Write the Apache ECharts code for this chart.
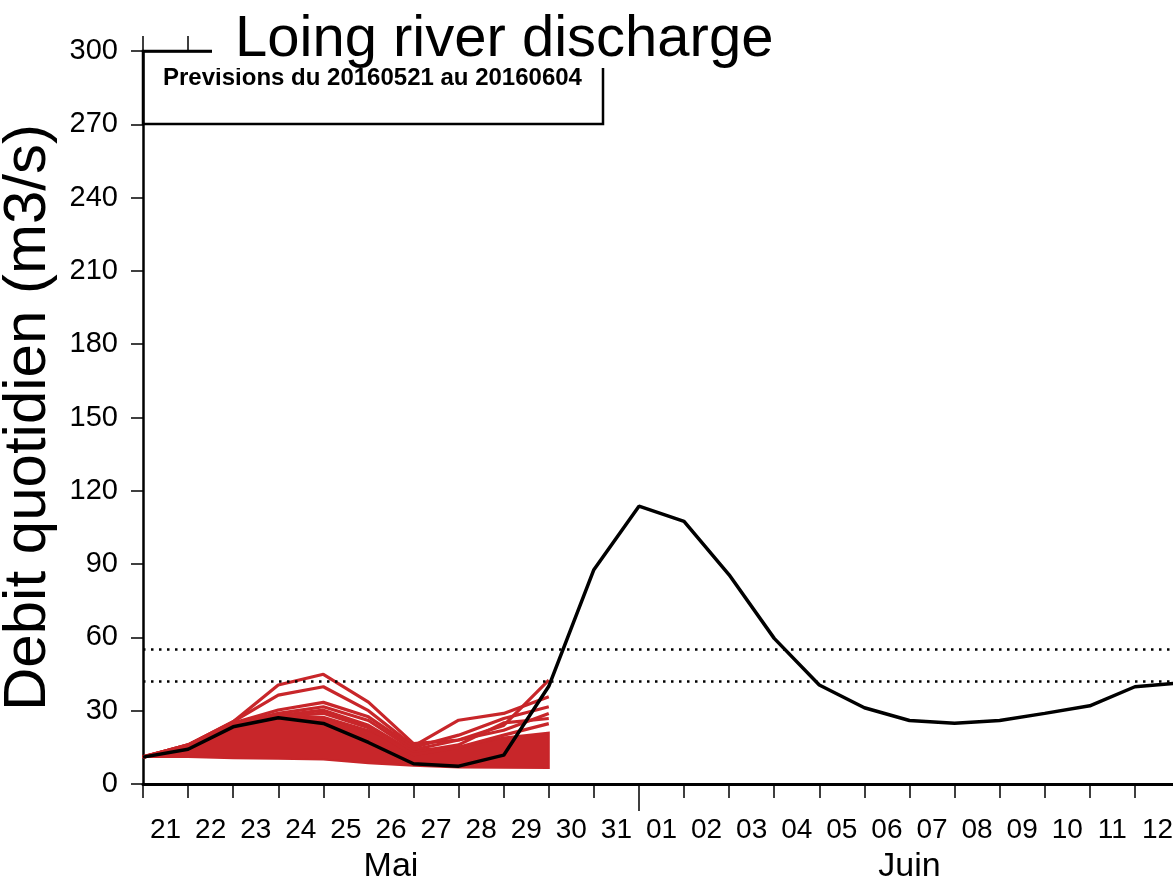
<!DOCTYPE html>
<html><head><meta charset="utf-8">
<script src="https://cdn.jsdelivr.net/npm/echarts@6/dist/echarts.min.js"></script>
<style>html,body{margin:0;padding:0;background:#fff;overflow:hidden}#c{width:1173px;height:885px}</style>
</head><body><div id="c"></div>
<script>
// ---- data ----
const days = ['21','22','23','24','25','26','27','28','29','30','31','01','02','03','04','05','06','07','08','09','10','11','12'];
const months = ['Mai', 'Juin'];
const daysInFirstMonth = 11;
const yMin = 0, yMax = 300, yStep = 30;
const thresholds = [55, 42];
// observed / simulated discharge (black), one value per day boundary
const observed = [11, 14.2, 23.4, 27.1, 24.8, 17, 8.3, 7.3, 11.8, 40, 87.7, 113.7, 107.5, 85.6, 59.6, 40.5, 31.2, 26, 24.9, 26, 28.9, 32, 39.8, 41.4];
// ensemble envelope of the dense forecast members
const ensLow  = [11, 11, 10.5, 10.3, 10, 8.5, 7.5, 6.8, 6.6, 6.5];
const ensHigh = [11.5, 16, 24, 28, 27.5, 22, 14, 15, 19, 21];
// distinct forecast members
const member1 = [11, 16, 25.5, 40.5, 44.9, 33.5, 16.5, 18, 24, 42.5];
const member2 = [11, 16, 25.5, 36.4, 39.8, 30, 15.5, 26.1, 28.9, 35.7];
const member3 = [11, 16, 25, 30.3, 33.4, 27.5, 15, 20, 26.8, 31.6];
const member4 = [11, 15.5, 24.5, 28.9, 31.6, 26, 14, 18, 22, 28.9];
const member5 = [11, 15, 24, 28, 30.2, 24, 13, 16, 25, 26.8];
const member6 = [11, 15, 23, 27.5, 29, 23, 12, 15, 20, 24.7];
const members = [member1, member2, member3, member4, member5, member6];
const boxText = 'Previsions du 20160521 au 20160604';
const titleText = 'Loing river discharge';
const yName = 'Debit quotidien (m3/s)';

// ---- chart ----
const RED = '#c8262a';
const FONT = "'Liberation Sans', Arial, sans-serif";
const toPts = arr => arr.map((v, i) => [i, v]);
const nDays = days.length;

const series = [];
series.push({
  type: 'custom', silent: true, z: 2,
  data: ensHigh.map((v, i) => [i, v, ensLow[i]]),
  encode: { x: 0, y: [1, 2] },
  renderItem: (params, api) => {
    if (params.dataIndex !== 0) return null;
    const pts = [];
    for (let i = 0; i < ensHigh.length; i++) pts.push(api.coord([i, ensHigh[i]]));
    for (let i = ensLow.length - 1; i >= 0; i--) pts.push(api.coord([i, ensLow[i]]));
    return { type: 'polygon', shape: { points: pts }, style: { fill: RED, stroke: RED, lineWidth: 2 } };
  }
});
members.forEach(m => series.push({
  type: 'line', data: toPts(m), symbol: 'none',
  lineStyle: { color: RED, width: 3.2 }, silent: true, z: 3
}));
series.push({
  type: 'line', data: toPts(observed), symbol: 'none',
  lineStyle: { color: '#000', width: 3.5 }, z: 5,
  markLine: {
    silent: true, symbol: 'none', label: { show: false },
    lineStyle: { color: '#000', type: [2.5, 5.5], width: 2.5 },
    data: thresholds.map(t => ({ yAxis: t }))
  }
});

const chart = echarts.init(document.getElementById('c'), null, { renderer: 'canvas' });
chart.setOption({
  animation: false,
  backgroundColor: '#fff',
  title: {
    text: titleText, left: 230, top: 6, z: 80,
    textStyle: { fontFamily: FONT, fontSize: 58, fontWeight: 'normal', color: '#000' }
  },
  grid: { left: 143, top: 51, right: -7, bottom: 101, outerBoundsMode: 'none', containLabel: false },
  xAxis: [
    {
      type: 'value', min: 0, max: nDays, interval: 1, position: 'bottom',
      axisLine: { lineStyle: { color: '#000', width: 3 } },
      axisTick: { show: true, length: 14, lineStyle: { color: '#000', width: 1.5 } },
      axisLabel: { show: false }, splitLine: { show: false }
    },
    {
      type: 'category', data: days, boundaryGap: true, position: 'bottom',
      axisLine: { show: false }, axisTick: { show: false }, splitLine: { show: false },
      axisLabel: { interval: 0, margin: 32, fontFamily: FONT, fontSize: 28, color: '#000' }
    },
    {
      type: 'value', min: 0, max: nDays, position: 'bottom',
      axisLine: { show: false }, splitLine: { show: false },
      axisTick: { show: true, length: 27, customValues: [daysInFirstMonth], lineStyle: { color: '#000', width: 1.5 } },
      axisLabel: {
        show: true, margin: 66, fontFamily: FONT, fontSize: 34, color: '#000',
        customValues: [daysInFirstMonth / 2, daysInFirstMonth + (nDays - daysInFirstMonth) / 2],
        formatter: v => (v < daysInFirstMonth ? months[0] : months[1])
      }
    },
    {
      type: 'value', min: 0, max: nDays, interval: 1, position: 'top',
      axisLine: { lineStyle: { color: '#000', width: 2.5 } },
      axisTick: { show: true, length: 15, lineStyle: { color: '#000', width: 1.5 } },
      axisLabel: { show: false }, splitLine: { show: false }
    }
  ],
  yAxis: {
    type: 'value', min: yMin, max: yMax, interval: yStep,
    name: yName, nameLocation: 'middle', nameRotate: 90, nameGap: 79,
    nameTextStyle: { fontFamily: FONT, fontSize: 60, color: '#000' },
    axisLine: { show: true, lineStyle: { color: '#000', width: 2.5 } },
    axisTick: { show: true, length: 12, lineStyle: { color: '#000', width: 1.5 } },
    axisLabel: { margin: 25, fontFamily: FONT, fontSize: 29, color: '#000' },
    splitLine: { show: false }
  },
  graphic: [
    {
      type: 'rect', z: 50, silent: true,
      shape: { x: 143, y: 51, width: 460, height: 73 },
      style: { fill: 'none', stroke: '#000', lineWidth: 2.5 }
    },
    {
      type: 'text', z: 51, silent: true, left: 163, top: 66,
      style: { text: boxText, fill: '#000', font: "bold 24px 'Liberation Sans', Arial, sans-serif" }
    },
    {
      type: 'rect', z: 60, silent: true,
      shape: { x: 212, y: 0, width: 1000, height: 68 },
      style: { fill: '#fff' }
    }
  ],
  series: series
});
</script></body></html>
